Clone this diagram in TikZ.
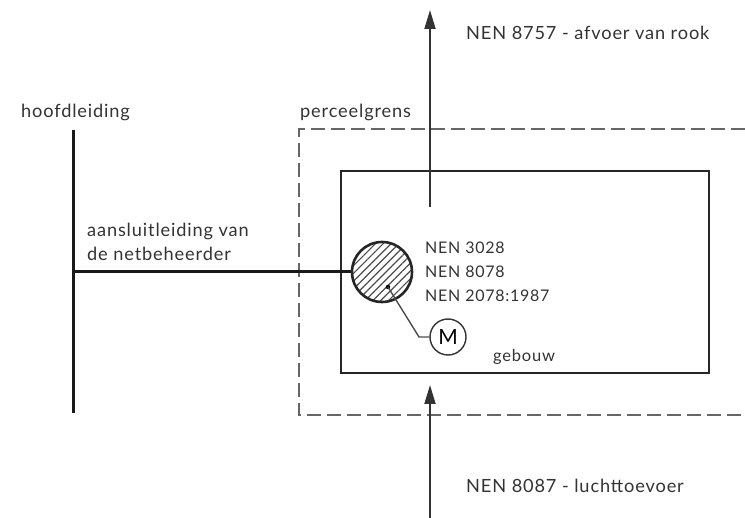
\documentclass[tikz,border=0pt]{standalone}
\usepackage{fontspec}
\setmainfont[LetterSpace=4.7]{Lato}
\usepackage{tikz}
\usetikzlibrary{arrows.meta, positioning, patterns.meta}

\begin{document}
\begin{tikzpicture}[
  x=1pt, y=-1pt,
  label/.style={anchor=west, inner sep=0pt, text=black!80, font=\fontsize{18.2}{24}\selectfont, align=left},
  pipe/.style={line width=3pt, black!90},
  building/.style={rectangle, draw=black!85, line width=2.6pt, minimum width=368pt, minimum height=202pt},
  meter/.style={circle, draw=black!85, line width=2.6pt, minimum size=60pt, inner sep=0pt,
                pattern={Lines[angle=45, distance=5.5pt, line width=1.2pt]}, pattern color=black!70},
  mcircle/.style={circle, draw=black!80, line width=1.4pt, minimum size=36pt, inner sep=0pt},
  border/.style={dash pattern=on 14pt off 6pt, line width=2pt, black!60},
  arrow/.style={-{Stealth[length=19pt, width=11pt, inset=0pt]}, line width=1.8pt, black!80}
]
  \useasboundingbox (0,0) rectangle (745,518);
  % property line
  \coordinate (grensA) at (745,129);
  \coordinate (grensB) at (299,129);
  \coordinate (grensC) at (299,415);
  \coordinate (grensD) at (745,415);
  \draw[border] (grensA) -- (grensB) -- (grensC) -- (grensD);
  \node[building] (gebouw) at (525,272) {};
  \node[meter] (aansluiting) at (382,272) {};
  \node[mcircle, font=\fontsize{21}{21}\selectfont] (m) at (448,337) {M};
  % pipes
  \coordinate (hoofdA) at (73.5,130);
  \coordinate (hoofdB) at (73.5,413);
  \coordinate (hoofdC) at (73.5,272);
  \draw[pipe] (hoofdA) -- (hoofdB);
  \draw[pipe] (hoofdC) -- (aansluiting);
  % leader to the meter
  \coordinate (dot) at (388,287);
  \coordinate (knik) at (419,337);
  \fill[black] (dot) circle (2.2pt);
  \draw[line width=1.4pt, black!70] (dot) -- (knik) -- (m);
  % smoke and air
  \coordinate (rookA) at (430,207);
  \coordinate (rookB) at (430,10);
  \coordinate (luchtA) at (430,518);
  \coordinate (luchtB) at (430,385);
  \draw[arrow] (rookA) -- (rookB);
  \draw[arrow] (luchtA) -- (luchtB);
  % texts
  \node[label] (hoofd) at (21,112) {hoofdleiding};
  \node[label] (grens) at (300,112) {perceelgrens};
  \node[label] (leiding) at (87,242) {aansluitleiding van\\de netbeheerder};
  \node[label, font=\fontsize{16}{24}\selectfont] (nen) at (425,272) {NEN 3028\\NEN 8078\\NEN 2078:1987};
  \node[label, font=\fontsize{16.5}{24}\selectfont] (geb) at (493,357) {gebouw};
  \node[label] (rook) at (466,33) {NEN 8757 - afvoer van rook};
  \node[label] (lucht) at (466,486) {NEN 8087 - luchttoevoer};
\end{tikzpicture}
\end{document}
